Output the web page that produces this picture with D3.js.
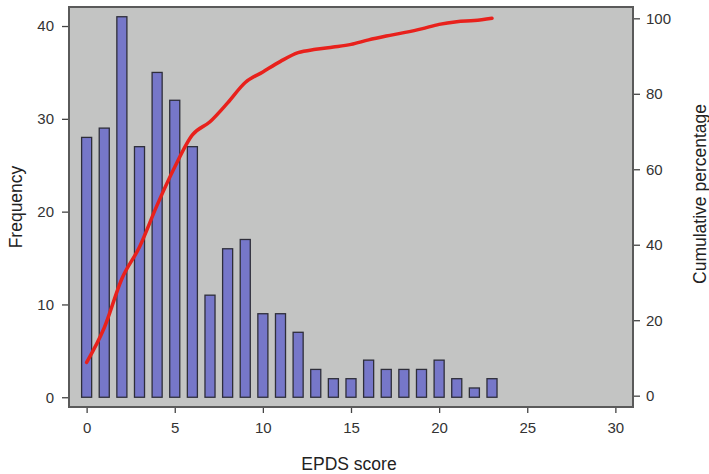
<!DOCTYPE html>
<html>
<head>
<meta charset="utf-8">
<script src="https://cdn.jsdelivr.net/npm/d3@7"></script>
<style>
	body { margin: 0; background: #fff; }
	text { font-family: "Liberation Sans", Arial, sans-serif; }
</style>
</head>
<body>
<svg id="chart" width="709" height="474"></svg>
<script>
// EPDS score categories and counts
var scores = [0,1,2,3,4,5,6,7,8,9,10,11,12,13,14,15,16,17,18,19,20,21,22,23];
var frequency = [28,29,41,27,35,32,27,11,16,17,9,9,7,3,2,2,4,3,3,3,4,2,1,2];
var cumPercent = [8.8,18,31,39.4,50.5,60.6,69.1,72.6,77.6,83,85.8,88.6,90.9,91.8,92.4,93.1,94.3,95.3,96.2,97.2,98.4,99.1,99.4,100];

var xTicks = [0,5,10,15,20,25,30];
var freqTicks = [0,10,20,30,40];
var pctTicks = [0,20,40,60,80,100];

var svg = d3.select("#chart");
var panelLeft = 69, panelRight = 633, panelTop = 7, panelBottom = 407;

var x = d3.scaleLinear().domain([-1, 31]).range([panelLeft, panelRight]);
var yFreq = d3.scaleLinear().domain([-1.05, 42.05]).range([panelBottom, panelTop]);
var yPct = d3.scaleLinear().domain([-3, 103]).range([panelBottom, panelTop]);

// panel
svg.append("rect")
	.attr("x", panelLeft).attr("y", panelTop)
	.attr("width", panelRight - panelLeft).attr("height", panelBottom - panelTop)
	.style("fill", "#c3c4c3")
	.style("stroke", "#5a5a5a")
	.style("stroke-width", 2);

var barHalf = 0.285;
svg.selectAll(".bar")
	.data(scores)
	.enter()
	.append("rect")
	.attr("class", "bar")
	.attr("x", function(d){ return x(d - barHalf); })
	.attr("width", function(d){ return x(d + barHalf) - x(d - barHalf); })
	.attr("y", function(d,i){ return yFreq(frequency[i]); })
	.attr("height", function(d,i){ return yFreq(0) - yFreq(frequency[i]); })
	.style("fill", "#7677c9")
	.style("stroke", "#2e2e3a")
	.style("stroke-width", 1.3);

var line = d3.line()
	.x(function(d){ return x(d); })
	.y(function(d,i){ return yPct(cumPercent[i]); })
	.curve(d3.curveMonotoneX);

svg.append("path")
	.datum(scores)
	.attr("d", line)
	.style("fill", "none")
	.style("stroke", "#e8211c")
	.style("stroke-width", 3.5)
	.style("stroke-linecap", "round");

function styleAxis(g)
{
	g.select(".domain").remove();
	g.selectAll(".tick line").style("stroke", "#444").style("stroke-width", 1.3);
	g.selectAll(".tick text")
		.style("font-size", "15px")
		.style("fill", "#333");
}

svg.append("g")
	.attr("transform", "translate(0," + (panelBottom + 1) + ")")
	.call(d3.axisBottom(x).tickValues(xTicks).tickSize(5).tickPadding(9).tickSizeOuter(0))
	.call(styleAxis);

svg.append("g")
	.attr("transform", "translate(" + (panelLeft - 1) + ",0)")
	.call(d3.axisLeft(yFreq).tickValues(freqTicks).tickSize(6).tickPadding(8).tickSizeOuter(0))
	.call(styleAxis);

svg.append("g")
	.attr("transform", "translate(" + (panelRight + 1) + ",0)")
	.call(d3.axisRight(yPct).tickValues(pctTicks).tickSize(6).tickPadding(6).tickSizeOuter(0))
	.call(styleAxis);

// titles
svg.append("text")
	.attr("x", 349).attr("y", 470)
	.style("text-anchor", "middle")
	.style("font-size", "17.5px")
	.style("fill", "#222")
	.text("EPDS score");

svg.append("text")
	.attr("transform", "translate(22,207) rotate(-90)")
	.style("text-anchor", "middle")
	.style("font-size", "17.5px")
	.style("fill", "#222")
	.text("Frequency");

svg.append("text")
	.attr("transform", "translate(706,194) rotate(-90)")
	.style("text-anchor", "middle")
	.style("font-size", "17.5px")
	.style("fill", "#222")
	.text("Cumulative percentage");
</script>
</body>
</html>
